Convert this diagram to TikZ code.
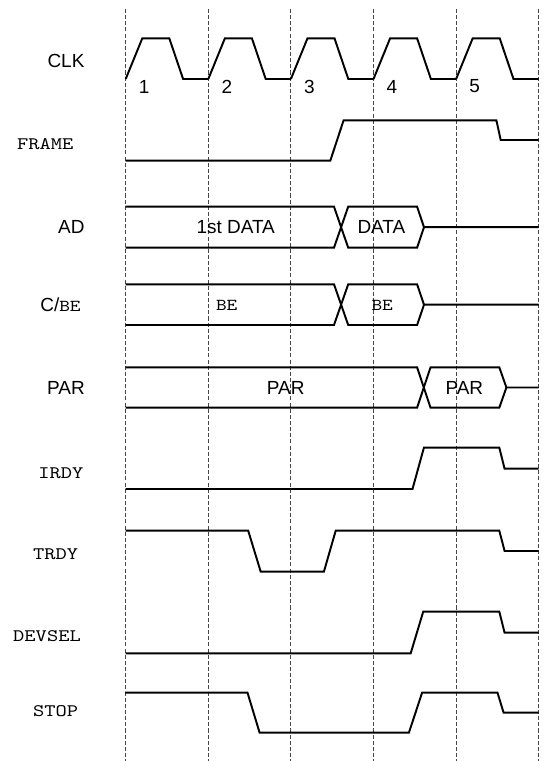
\documentclass[tikz,border=0pt]{standalone}
\usepackage{fontspec}
\setmainfont{Liberation Sans}
\usepackage{xcolor}
\definecolor{gridgray}{RGB}{70,70,70}
\usetikzlibrary{positioning}

% serif typewriter, widened like Courier
\newcommand{\monosig}[2][10]{\scalebox{1.22}[1]{\fontsize{#1}{12}\selectfont\ttfamily #2}}

\tikzset{
  sig/.style={line width=1.1pt, black, line join=miter},
  clockline/.style={gridgray, line width=0.6pt, dash pattern=on 2.3pt off 1.2pt},
  signame/.style={font=\fontsize{10.8}{12}\selectfont, inner sep=0pt},
}

\begin{document}
\begin{tikzpicture}[x=0.02cm, y=-0.02cm]
  \useasboundingbox (0,0) rectangle (559,761);

  % Clock edge guides
  \foreach \i in {0,...,5}
    \draw[clockline] (125.7+82.6*\i,9) -- (125.7+82.6*\i,761);

  % --- Signal names ---
  \node[signame] (clk)    at (66,61)      {CLK};
  \node[signame] (frame)  at (45.3,143.7) {\monosig{FRAME}};
  \node[signame] (ad)     at (71.4,227.2) {AD};
  \node[signame] (cbe)    at (60.5,304.7) {C/\monosig[9.5]{BE}};
  \node[signame] (par)    at (66,387.5)   {PAR};
  \node[signame] (irdy)   at (60.8,472.8) {\monosig{IRDY}};
  \node[signame] (trdy)   at (55.7,554)   {\monosig{TRDY}};
  \node[signame] (devsel) at (47,636.3)   {\monosig{DEVSEL}};
  \node[signame] (stop)   at (55.7,710.7) {\monosig{STOP}};

  % --- CLK ---
  \foreach \i in {0,...,4} {
    \draw[sig] (125.7+82.6*\i,79) -- (142.3+82.6*\i,38.3) -- (169.3+82.6*\i,38.3)
               -- (183.1+82.6*\i,79) -- (208.3+82.6*\i,79);
    \node[signame] (n\i) at (144.2+82.6*\i,86.5) {\pgfmathparse{int(\i+1)}\pgfmathresult};
  }

  % --- FRAME ---
  \draw[sig] (125.7,160.7) -- (330.3,160.7) -- (343.6,120.3) -- (496.4,120.3)
             -- (500.7,140) -- (538.7,140);

  % --- AD ---
  \draw[sig] (125.7,206.7) -- (334,206.7) -- (348.2,247.7) -- (417.1,247.7)
             -- (424,227.2) -- (538.7,227.2);
  \draw[sig] (125.7,247.7) -- (334,247.7) -- (348.2,206.7) -- (417.1,206.7)
             -- (424,227.2);
  \node[signame] (ad1) at (235.7,227.2) {1st DATA};
  \node[signame] (ad2) at (381.4,227.2) {DATA};

  % --- C/BE ---
  \draw[sig] (125.7,284.3) -- (334,284.3) -- (348.2,325) -- (417.1,325)
             -- (424,304.7) -- (538.7,304.7);
  \draw[sig] (125.7,325) -- (334,325) -- (348.2,284.3) -- (417.1,284.3)
             -- (424,304.7);
  \node[signame] (be1) at (226.7,305.5) {\monosig[9.5]{BE}};
  \node[signame] (be2) at (382.2,305.5) {\monosig[9.5]{BE}};

  % --- PAR ---
  \draw[sig] (125.7,367.3) -- (417.1,367.3) -- (430.5,407.7) -- (499.3,407.7)
             -- (506.4,387.5) -- (538.7,387.5);
  \draw[sig] (125.7,407.7) -- (417.1,407.7) -- (430.5,367.3) -- (499.3,367.3)
             -- (506.4,387.5);
  \node[signame] (par1) at (285.7,387.5) {PAR};
  \node[signame] (par2) at (464.3,387.5) {PAR};

  % --- IRDY ---
  \draw[sig] (125.7,489) -- (412.5,489) -- (423.9,447.7) -- (499.3,447.7)
             -- (504.6,468.7) -- (538.7,468.7);

  % --- TRDY ---
  \draw[sig] (125.7,530.7) -- (248.2,530.7) -- (260.7,571.7) -- (323.9,571.7)
             -- (335.7,530.7) -- (499.3,530.7) -- (504.6,551) -- (538.7,551);

  % --- DEVSEL ---
  \draw[sig] (125.7,653.3) -- (410.7,653.3) -- (423.2,611.7) -- (499.3,611.7)
             -- (504.6,632.7) -- (538.7,632.7);

  % --- STOP ---
  \draw[sig] (125,692.7) -- (247.5,692.7) -- (259.6,732.7) -- (408.9,732.7)
             -- (422.1,692.7) -- (497.5,692.7) -- (503.6,712.7) -- (538.7,712.7);
\end{tikzpicture}
\end{document}
